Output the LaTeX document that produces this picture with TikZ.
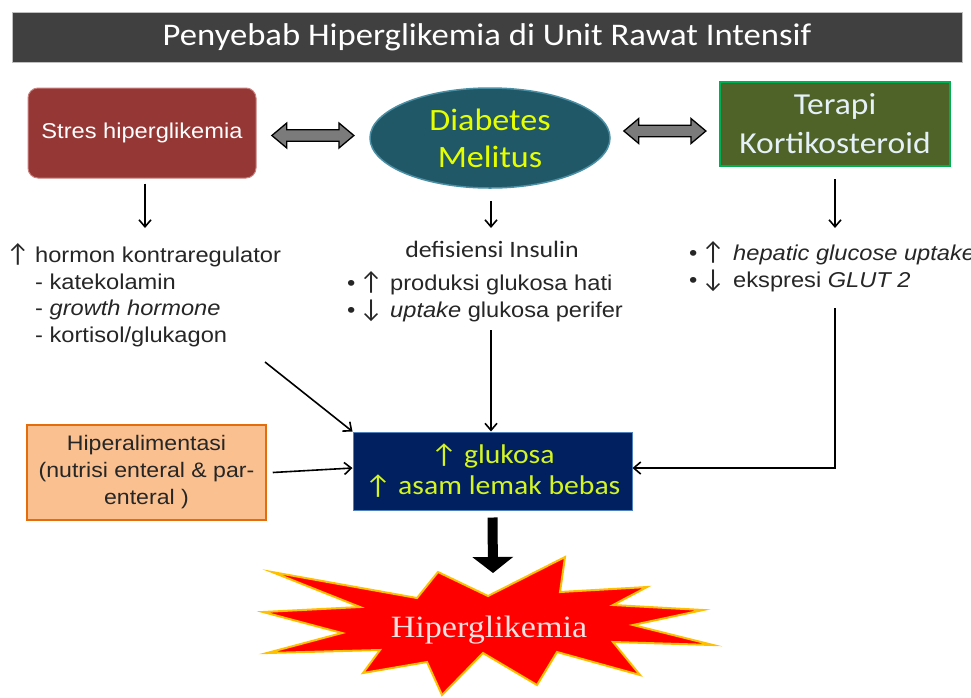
\documentclass[tikz,border=0pt]{standalone}
\usepackage{fontspec}
\setmainfont[FakeStretch=1.1]{Liberation Sans}
\newfontfamily\arialf[FakeStretch=1.1]{Liberation Sans}
\newfontfamily\carlitof[FakeStretch=1.1]{Carlito}
\newfontfamily\timesf[FakeStretch=1.1]{Liberation Serif}
\newfontfamily\arrowf{Carlito}
\newcommand{\upa}{{\arrowf\fontsize{26}{26}\selectfont ↑}}
\newcommand{\dna}{{\arrowf\fontsize{26}{26}\selectfont ↓}}
\usetikzlibrary{arrows.meta,shapes.geometric,shapes.arrows,calc}
\definecolor{titlebg}{HTML}{404040}
\definecolor{stresfill}{HTML}{953735}
\definecolor{stresborder}{HTML}{C9827F}
\definecolor{dmfill}{HTML}{215868}
\definecolor{dmborder}{HTML}{4A8FA3}
\definecolor{yellowtxt}{HTML}{E6FF00}
\definecolor{tkfill}{HTML}{4F6228}
\definecolor{tkborder}{HTML}{00B050}
\definecolor{tktext}{HTML}{E4F1F8}
\definecolor{hipfill}{HTML}{FAC090}
\definecolor{hipborder}{HTML}{E46C0A}
\definecolor{bluefill}{HTML}{002060}
\definecolor{blueborder}{HTML}{4F81BD}
\definecolor{limetxt}{HTML}{D4F520}
\definecolor{darktxt}{HTML}{262626}
\definecolor{hgtxt}{HTML}{F5E1E0}
\definecolor{exborder}{HTML}{FFC000}
\begin{document}
\begin{tikzpicture}[x=1pt,y=-1pt,
  txt/.style={anchor=base west, inner sep=0pt, text=darktxt, font=\arialf\fontsize{21.5}{26}\selectfont},
  arr/.style={line width=1.6pt, -{Straight Barb[length=7pt,width=12pt]}},
  darr/.style={double arrow, draw=black, line width=1.3pt, fill=gray!85!black!90, minimum height=82pt, minimum width=25pt, inner sep=4.5pt, double arrow head extend=6pt, double arrow tip angle=80}]
\useasboundingbox (0,0) rectangle (971,697);
\fill[white] (0,0) rectangle (971,697);
% title
\node[draw=gray!50, fill=titlebg, minimum width=950pt, minimum height=50pt, inner sep=0pt, text=white, font=\carlitof\fontsize{31.5}{34}\selectfont] (title) at (487,37) {Penyebab Hiperglikemia di Unit Rawat Intensif};
% top row
\node[draw=stresborder, line width=1pt, fill=stresfill, rounded corners=10pt, minimum width=228pt, minimum height=90pt, text=white, font=\arialf\fontsize{21.5}{24}\selectfont] (stres) at (142,133) {Stres hiperglikemia};
\node[ellipse, draw=dmborder, line width=1.5pt, fill=dmfill, minimum width=240pt, minimum height=100pt, inner sep=0pt, text=yellowtxt, font=\carlitof\fontsize{31}{37}\selectfont, align=center] (dm) at (490,138) {Diabetes\\Melitus};
\node[draw=tkborder, line width=2pt, fill=tkfill, minimum width=230pt, minimum height=84pt, inner sep=0pt, text=tktext, font=\carlitof\fontsize{30.5}{39}\selectfont, align=center] (tk) at (835,124) {Terapi\\Kortikosteroid};
\path (stres.east) -- (dm.west) node[midway, darr] (da1) {};
\path (dm.east) -- (tk.west) node[midway, darr] (da2) {};
% left text
\node[txt] (l1) at (6,262) {\makebox[29pt][l]{\upa}hormon kontraregulator};
\node[txt] (l2) at (35,289) {- katekolamin};
\node[txt] (l3) at (35,315) {- \textit{growth hormone}};
\node[txt] (l4) at (35,342) {- kortisol/glukagon};
% middle text
\node[anchor=base, inner sep=0pt, text=darktxt, font=\carlitof\fontsize{23.5}{28}\selectfont] (m0) at (492,257) {defisiensi Insulin};
\node[txt] (m1) at (347,290) {\makebox[43pt][l]{•\hspace{4pt}\upa}produksi glukosa hati};
\node[txt] (m2) at (347,317) {\makebox[43pt][l]{•\hspace{4pt}\dna}\textit{uptake} glukosa perifer};
% right text
\node[txt] (r1) at (689,260) {\makebox[44pt][l]{•\hspace{4pt}\upa}\textit{hepatic glucose uptake}};
\node[txt] (r2) at (689,287) {\makebox[44pt][l]{•\hspace{4pt}\dna}ekspresi \textit{GLUT 2}};
% bottom boxes
\node[draw=hipborder, line width=1.5pt, fill=hipfill, minimum width=239pt, minimum height=95pt, inner sep=0pt, text=darktxt, align=center, font=\arialf\fontsize{21}{27}\selectfont] (hip) at (146.5,472.5) {Hiperalimentasi\\(nutrisi enteral \& par-\\enteral )};
\node[draw=blueborder, line width=1pt, fill=bluefill, minimum width=279pt, minimum height=78pt, inner sep=0pt, text=limetxt, align=center, font=\carlitof\fontsize{27}{31}\selectfont] (blue) at (492.5,471) {↑ glukosa\\↑ asam lemak bebas};
% explosion
\filldraw[fill=red, draw=exborder, line width=2pt, line join=miter] (565,557) -- (560,592) -- (647,587) -- (613,605) -- (703,610) -- (633,625) -- (713,645) -- (613,642) -- (640,675) -- (557,652) -- (537,685) -- (483,653) -- (442,695) -- (427,662) -- (363,673) -- (380,650) -- (267,653) -- (342,633) -- (263,612) -- (360,607) -- (272,572) -- (417,598) -- (438,572) -- (488,596) -- cycle;
\node[inner sep=0pt, anchor=base, text=hgtxt, font=\timesf\fontsize{31}{34}\selectfont] (hg) at (489,637) {Hiperglikemia};
% coordinates
\coordinate (s1) at (145,228);
\coordinate (s2) at (491,228);
\coordinate (s3) at (835,228);
\coordinate (lstart) at (265,362);
\coordinate (mstart) at (491,330);
\coordinate (rstart) at (835,308);
\coordinate (rcorner) at (835,468);
\coordinate (tip) at (493,573);
% connectors
\draw[arr] (stres.south -| s1) ++(0,5) -- (s1);
\draw[arr] (dm.south -| s2) ++(0,12) -- (s2);
\draw[arr] (tk.south -| s3) ++(0,12) -- (s3);
\draw[arr] (lstart) -- (blue.north west);
\draw[arr] (mstart) -- (mstart |- blue.north);
\draw[arr] ([xshift=6pt]hip.east) -- (blue.west |- rcorner);
\draw[arr] (rstart) -- (rcorner) -- (blue.east |- rcorner);
\draw[line width=10pt, -{Triangle[length=16pt,width=40pt]}] ([yshift=-7pt]blue.south) -- (tip);
\end{tikzpicture}
\end{document}
